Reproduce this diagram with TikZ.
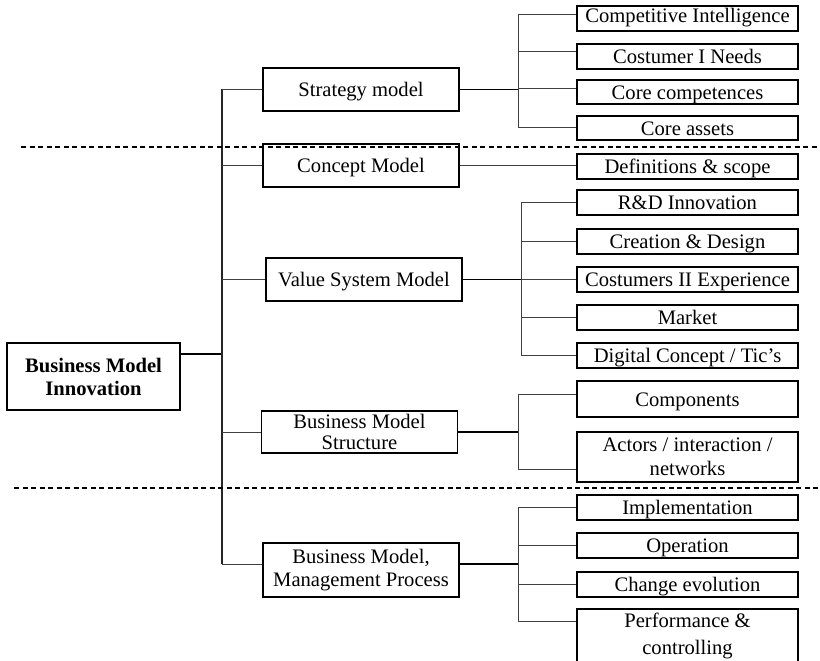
\documentclass[tikz,border=0pt]{standalone}
\usepackage{fontspec}
\setmainfont{Liberation Serif}
\usetikzlibrary{calc}

\tikzset{
  box/.style={draw, line width=1.5pt, fill=white, inner sep=0pt, align=center,
              font=\fontsize{20.6}{23}\selectfont},
  one/.style={box, text height=18.5pt, text depth=4pt},
  mid/.style={minimum width=196pt},
  leaf/.style={one, minimum width=221pt, minimum height=25pt},
  thinline/.style={line width=1pt, draw=black!75},
  thickline/.style={line width=1.8pt},
  trunkline/.style={line width=1.2pt, draw=black!85},
  dashline/.style={line width=1.3pt, dash pattern=on 5pt off 3.5pt},
}

\begin{document}
\begin{tikzpicture}[x=1pt,y=-1pt]
\useasboundingbox (0,0) rectangle (820,661);
\clip (0,0) rectangle (820,661);

% root and first level
\node[box, font=\bfseries\fontsize{20.6}{23}\selectfont, minimum width=173pt, minimum height=67pt]
  (root) at (93.5,376.5) {Business Model\\Innovation};
\node[one, mid, minimum height=43pt] (strat)   at (361,89.5)  {Strategy model};
\node[one, mid, minimum height=43pt] (concept) at (361,165.5) {Concept Model};
\node[one, mid, minimum height=43pt] (value)   at (364,279.5) {Value System Model};
\node[box, mid, minimum height=42pt, font=\fontsize{20.6}{21.5}\selectfont]
  (struct) at (359.5,432) {Business Model\\Structure};
\node[box, mid, minimum height=54pt] (mgmt) at (361,570) {Business Model,\\Management Process};

% leaves
\node[leaf, text height=15pt, text depth=6pt] (comp) at (687.5,18.5) {Competitive Intelligence};
\node[leaf] (needs)    at (687.5,56.5)  {Costumer I Needs};
\node[leaf, minimum height=24pt] (compet) at (687.5,92) {Core competences};
\node[leaf, minimum height=24pt] (assets) at (687.5,128) {Core assets};
\node[leaf] (defs)     at (687.5,166.5) {Definitions \& scope};
\node[leaf] (rd)       at (687.5,202.5) {R\&D Innovation};
\node[leaf] (creation) at (687.5,241.5) {Creation \& Design};
\node[leaf] (cust)     at (687.5,279.5) {Costumers II Experience};
\node[leaf] (market)   at (687.5,317.5) {Market};
\node[leaf] (digital)  at (687.5,355.5) {Digital Concept / Tic's};
\node[leaf, minimum height=36pt] (compon) at (687.5,399) {Components};
\node[box, minimum width=221pt, minimum height=50pt, font=\fontsize{20.6}{24}\selectfont]
  (actors) at (687.5,457) {Actors / interaction /\\networks};
\node[leaf] (impl)     at (687.5,507.5) {Implementation};
\node[leaf] (oper)     at (687.5,545.5) {Operation};
\node[leaf] (change)   at (687.5,584.5) {Change evolution};
\node[box, minimum width=221pt, minimum height=54pt, font=\fontsize{20.6}{27}\selectfont]
  (perf) at (687.5,636) {Performance \&\\controlling};

% attachment points and trunk positions
\coordinate (rootout) at ([yshift=22.5pt]root.east);
\coordinate (mgmtin)  at ([yshift=6pt]mgmt.west);
\coordinate (mgmtout) at ([yshift=6pt]mgmt.east);
\coordinate (compin)   at ([yshift=4.2pt]comp.west);
\coordinate (needsin)  at ([yshift=4.5pt]needs.west);
\coordinate (competin) at ([yshift=3pt]compet.west);
\coordinate (assetsin) at ([yshift=1pt]assets.west);
\coordinate (componin) at ([yshift=5pt]compon.west);
\coordinate (actorsin) at ([yshift=-12pt]actors.west);
\coordinate (perfin)   at ([yshift=15pt]perf.west);
\coordinate (trunk) at (222,0);
\coordinate (s1) at (518,0);
\coordinate (s2) at (521,0);
\coordinate (s3) at (518,0);
\coordinate (s4) at (518,0);

% main trunk
\draw[thickline] (rootout) -- (rootout -| trunk);
\draw[trunkline] (trunk |- strat.west) -- (trunk |- mgmtin);
\foreach \n in {strat,concept,value,struct}
  \draw[thinline] (trunk |- \n.west) -- (\n.west);
\draw[thinline] (trunk |- mgmtin) -- (mgmtin);

% strategy model group
\draw[thickline] (strat.east) -- (s1 |- strat.east);
\draw[thinline] (s1 |- compin) -- (s1 |- assetsin);
\foreach \n in {compin,needsin,competin,assetsin}
  \draw[thinline] (s1 |- \n) -- (\n);

% concept model
\draw[thinline] (concept.east) -- (defs.west |- concept.east);

% value system group
\draw[thickline] (value.east) -- (s2 |- value.east);
\draw[thinline] (s2 |- rd.west) -- (s2 |- digital.west);
\foreach \n in {rd,creation,cust,market,digital}
  \draw[thinline] (s2 |- \n.west) -- (\n.west);

% structure group
\draw[thickline] (struct.east) -- (s3 |- struct.east);
\draw[thinline] (s3 |- componin) -- (s3 |- actorsin);
\foreach \n in {componin,actorsin}
  \draw[thinline] (s3 |- \n) -- (\n);

% management process group
\draw[thickline] (mgmtout) -- (s4 |- mgmtout);
\draw[thinline] (s4 |- impl.west) -- (s4 |- perfin);
\foreach \n in {impl,oper,change}
  \draw[thinline] (s4 |- \n.west) -- (\n.west);
\draw[thinline] (s4 |- perfin) -- (perfin);

% section separators
\coordinate (d1a) at (21,147);
\coordinate (d1b) at (820,147);
\coordinate (d2a) at (14,488);
\coordinate (d2b) at (820,488);
\draw[dashline] (d1a) -- (d1b);
\draw[dashline] (d2a) -- (d2b);
\end{tikzpicture}
\end{document}
